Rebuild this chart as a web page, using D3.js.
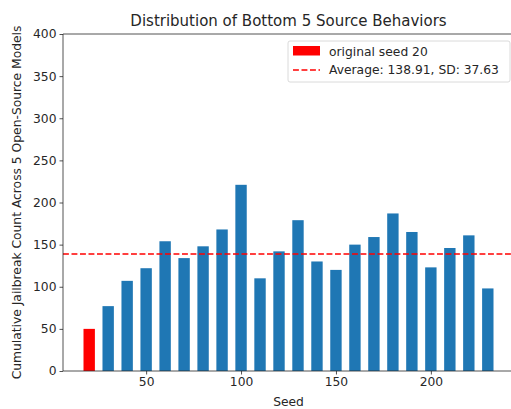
<!DOCTYPE html>
<html>
<head>
<meta charset="utf-8">
<script src="https://cdn.jsdelivr.net/npm/d3@7"></script>
<style>
  body { margin: 0; background: #fff; }
  svg { font-family: "DejaVu Sans", sans-serif; }
</style>
</head>
<body>
<div id="chart"></div>
<script>
// seeds and cumulative jailbreak counts
var seeds = [20, 30, 40, 50, 60, 70, 80, 90, 100, 110, 120, 130, 140, 150, 160, 170, 180, 190, 200, 210, 220, 230];
var counts = [50, 77, 107, 122, 154, 134, 148, 168, 221, 110, 142, 179, 130, 120, 150, 159, 187, 165, 123, 146, 161, 98];
var originalSeed = 20;
var avgValue = 138.91, sdValue = 37.63;
var yTicks = [0, 50, 100, 150, 200, 250, 300, 350, 400];
var xTicks = [50, 100, 150, 200];

var width = 511, height = 409;
var margin = { top: 34, right: -3, bottom: 38, left: 63 };
var barWidth = 6;
var fs = "12.3px";

var svg = d3.select("#chart").append("svg")
  .attr("width", width).attr("height", height);

var x = d3.scaleLinear()
  .domain([6.2, 243.8])
  .range([margin.left, width - margin.right]);
var y = d3.scaleLinear()
  .domain([0, 400])
  .range([height - margin.bottom, margin.top]);

// bars
svg.selectAll("rect.bar")
  .data(seeds)
  .join("rect")
  .attr("class", "bar")
  .attr("x", (d) => x(d - barWidth / 2))
  .attr("width", (d) => x(d + barWidth / 2) - x(d - barWidth / 2))
  .attr("y", (d, i) => y(counts[i]))
  .attr("height", (d, i) => y(0) - y(counts[i]))
  .attr("fill", (d) => d === originalSeed ? "#ff0000" : "#1f77b4");

// average line
svg.append("line")
  .attr("x1", margin.left).attr("x2", width - margin.right)
  .attr("y1", y(avgValue)).attr("y2", y(avgValue))
  .attr("stroke", "#ff0000").attr("stroke-width", 1.6)
  .attr("stroke-dasharray", "5.9,2.6");

// axes
var yAxis = svg.append("g")
  .attr("transform", `translate(${margin.left},0)`)
  .call(d3.axisLeft(y).tickValues(yTicks).tickSize(3.5).tickPadding(3));
var xAxis = svg.append("g")
  .attr("transform", `translate(0,${height - margin.bottom})`)
  .call(d3.axisBottom(x).tickValues(xTicks).tickSize(3.5).tickPadding(3));

[xAxis, yAxis].forEach(function (g) {
  g.selectAll("text").attr("font-size", fs).attr("fill", "#262626")
    .attr("font-family", "DejaVu Sans");
  g.selectAll("line").attr("stroke", "#262626").attr("stroke-width", 0.8);
  g.select(".domain").attr("stroke", "#262626").attr("stroke-width", 0.8);
});
xAxis.select(".domain").attr("d", `M${margin.left},0H${width - margin.right}`);
yAxis.select(".domain").attr("d", `M0,${height - margin.bottom}V${margin.top}`);

// top spine
svg.append("line")
  .attr("x1", margin.left).attr("x2", width - margin.right)
  .attr("y1", margin.top).attr("y2", margin.top)
  .attr("stroke", "#262626").attr("stroke-width", 0.8);

// title and labels
svg.append("text")
  .attr("x", (margin.left + width - margin.right) / 2).attr("y", 25.5)
  .attr("text-anchor", "middle").attr("font-size", "15px").attr("fill", "#262626")
  .text("Distribution of Bottom 5 Source Behaviors");

svg.append("text")
  .attr("x", (margin.left + width - margin.right) / 2).attr("y", 406)
  .attr("text-anchor", "middle").attr("font-size", fs).attr("fill", "#262626")
  .text("Seed");

svg.append("text")
  .attr("transform", `translate(21,${(margin.top + height - margin.bottom) / 2}) rotate(-90)`)
  .attr("text-anchor", "middle").attr("font-size", fs).attr("fill", "#262626")
  .text("Cumulative Jailbreak Count Across 5 Open-Source Models");

// legend
var legend = svg.append("g").attr("transform", "translate(288,41)");
legend.append("rect")
  .attr("width", 222).attr("height", 41).attr("rx", 2)
  .attr("fill", "#fff").attr("fill-opacity", 0.8)
  .attr("stroke", "#d0d0d0").attr("stroke-width", 0.8);
legend.append("rect")
  .attr("x", 5).attr("y", 5).attr("width", 27).attr("height", 9.5)
  .attr("fill", "#ff0000");
legend.append("text")
  .attr("x", 41).attr("y", 14.5).attr("font-size", fs).attr("fill", "#262626")
  .text("original seed " + originalSeed);
legend.append("line")
  .attr("x1", 5).attr("x2", 32).attr("y1", 29).attr("y2", 29)
  .attr("stroke", "#ff0000").attr("stroke-width", 1.6)
  .attr("stroke-dasharray", "5.9,2.6");
legend.append("text")
  .attr("x", 41).attr("y", 33).attr("font-size", fs).attr("fill", "#262626")
  .text("Average: " + avgValue.toFixed(2) + ", SD: " + sdValue.toFixed(2));
</script>
</body>
</html>
